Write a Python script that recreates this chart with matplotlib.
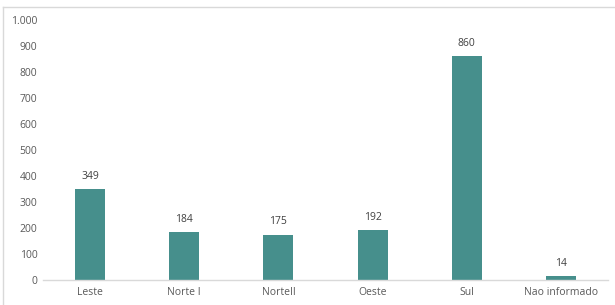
import matplotlib
matplotlib.use("Agg")
import matplotlib.pyplot as plt
from matplotlib.lines import Line2D
from matplotlib.ticker import FuncFormatter

categories = ["Leste", "Norte I", "NorteII", "Oeste", "Sul", "Nao informado"]
values = [349, 184, 175, 192, 860, 14]

BAR_COLOR = "#468f8c"
TEXT_COLOR = "#595959"

plt.rcParams["font.family"] = ["Open Sans", "DejaVu Sans"]

fig = plt.figure(figsize=(6.15, 3.05), dpi=100)
ax = fig.add_axes([43 / 615, 25 / 305, 565 / 615, 260 / 305])

x = range(len(categories))
bars = ax.bar(x, values, width=0.32, color=BAR_COLOR, zorder=2)
for b, v in zip(bars, values):
    ax.text(b.get_x() + b.get_width() / 2, v + 28, str(v), ha="center", va="bottom",
            fontsize=7.5, color="#404040")

ax.set_xlim(-0.5, len(categories) - 0.5)
ax.set_ylim(0, 1000)
ax.set_yticks(range(0, 1001, 100))
ax.yaxis.set_major_formatter(FuncFormatter(lambda v, p: f"{int(v):,}".replace(",", ".")))
ax.set_xticks(list(x))
ax.set_xticklabels(categories)
ax.tick_params(axis="both", length=0, labelsize=7.5, labelcolor=TEXT_COLOR)
ax.tick_params(axis="y", pad=4)
ax.tick_params(axis="x", pad=5)

for side in ["top", "right", "left"]:
    ax.spines[side].set_visible(False)
ax.spines["bottom"].set_color("#d9d9d9")
ax.spines["bottom"].set_linewidth(1)

# outer frame (top and left edges)
fig.add_artist(Line2D([3 / 615, 614 / 615], [1 - 7 / 305, 1 - 7 / 305], color="#d9d9d9", lw=1))
fig.add_artist(Line2D([3 / 615, 3 / 615], [0, 1 - 7 / 305], color="#d9d9d9", lw=1))

fig.savefig("out.png", dpi=100)
